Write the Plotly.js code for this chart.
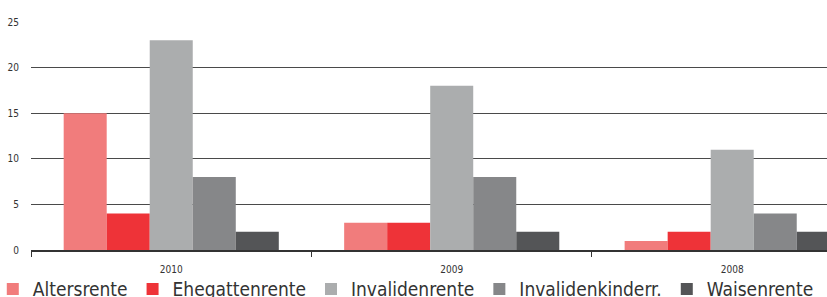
<!DOCTYPE html>
<html>
<head>
<meta charset="utf-8">
<script src="https://cdn.plot.ly/plotly-3.0.1.min.js"></script>
<style>html,body{margin:0;padding:0;background:#fff;}#chart{width:827px;height:297px;}</style>
</head>
<body>
<div id="chart"></div>
<script>
var categories = ["2010", "2009", "2008"];
var seriesNames = ["Altersrente", "Ehegattenrente", "Invalidenrente", "Invalidenkinderr.", "Waisenrente"];
var altersrente = [15, 3, 1];
var ehegattenrente = [4, 3, 2];
var invalidenrente = [23, 18, 11];
var invalidenkinderr = [8, 8, 4];
var waisenrente = [2, 2, 2];
var yTicks = [0, 5, 10, 15, 20, 25];

var seriesValues = [altersrente, ehegattenrente, invalidenrente, invalidenkinderr, waisenrente];
var colors = ["#F17C7C", "#EE3338", "#ABADAE", "#868789", "#545557"];
var FONT = "'DejaVu Sans Condensed', 'Liberation Sans Narrow', sans-serif";

var data = seriesNames.map(function (name, i) {
  return {
    type: "bar",
    name: name,
    x: categories,
    y: seriesValues[i],
    marker: { color: colors[i], line: { width: 0 } },
    hoverinfo: "skip"
  };
});

var layout = {
  width: 827,
  height: 297,
  margin: { l: 31, r: 0, t: 22, b: 47, autoexpand: false },
  paper_bgcolor: "#ffffff",
  plot_bgcolor: "#ffffff",
  barmode: "group",
  bargap: 0.233,
  bargroupgap: 0,
  font: { family: FONT, color: "#333333" },
  xaxis: {
    type: "category",
    range: [-0.5, 2.338],
    showgrid: false,
    showline: true,
    linecolor: "#333333",
    linewidth: 1.5,
    ticks: "outside",
    tickson: "boundaries",
    ticklen: 5,
    tickcolor: "#333333",
    tickwidth: 1,
    ticklabelstandoff: 9,
    tickfont: { size: 10, color: "#333333", family: FONT },
    automargin: false,
    fixedrange: true
  },
  yaxis: {
    range: [0, 25],
    tickvals: yTicks,
    ticktext: yTicks.map(String),
    showgrid: true,
    gridcolor: "#4a4a4a",
    gridwidth: 1.3,
    zeroline: false,
    showline: false,
    ticks: "",
    ticklabelstandoff: 11,
    tickfont: { size: 10, color: "#333333", family: FONT },
    automargin: false,
    fixedrange: true
  },
  showlegend: true,
  legend: {
    orientation: "h",
    x: -0.048,
    xanchor: "left",
    y: -0.088,
    yanchor: "top",
    font: { size: 19, color: "#333333", family: FONT },
    bgcolor: "rgba(0,0,0,0)",
    traceorder: "normal"
  }
};

Plotly.newPlot("chart", data, layout, { displayModeBar: false, staticPlot: true });
</script>
</body>
</html>
